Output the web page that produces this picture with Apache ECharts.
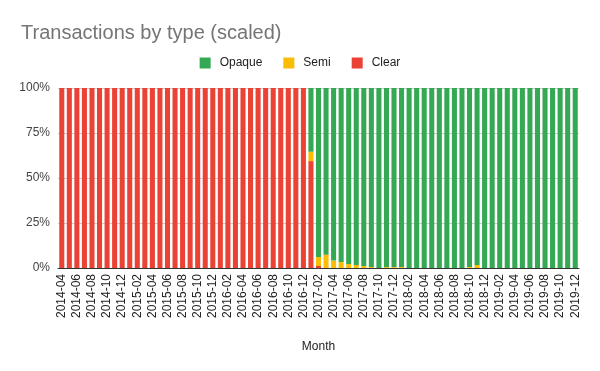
<!DOCTYPE html>
<html>
<head>
<meta charset="utf-8">
<script src="https://cdn.jsdelivr.net/npm/echarts@6/dist/echarts.min.js"></script>
<style>html,body{margin:0;padding:0;background:#fff}#c{width:600px;height:371px}</style>
</head>
<body>
<div id="c"></div>
<script>
var months = ["2014-04","2014-05","2014-06","2014-07","2014-08","2014-09","2014-10","2014-11","2014-12",
"2015-01","2015-02","2015-03","2015-04","2015-05","2015-06","2015-07","2015-08","2015-09","2015-10","2015-11","2015-12",
"2016-01","2016-02","2016-03","2016-04","2016-05","2016-06","2016-07","2016-08","2016-09","2016-10","2016-11","2016-12",
"2017-01","2017-02","2017-03","2017-04","2017-05","2017-06","2017-07","2017-08","2017-09","2017-10","2017-11","2017-12",
"2018-01","2018-02","2018-03","2018-04","2018-05","2018-06","2018-07","2018-08","2018-09","2018-10","2018-11","2018-12",
"2019-01","2019-02","2019-03","2019-04","2019-05","2019-06","2019-07","2019-08","2019-09","2019-10","2019-11","2019-12"];

var clear = [100,100,100,100,100,100,100,100,100,
100,100,100,100,100,100,100,100,100,100,100,100,
100,100,100,100,100,100,100,100,100,100,100,100,
59.4,1.1,0,0,0,0,0,0,0,0,0,0,
0,0,0,0,0,0,0,0,0,0,0,0,
0,0,0,0,0,0,0,0,0,0,0,0];

var semi = [0,0,0,0,0,0,0,0,0,
0,0,0,0,0,0,0,0,0,0,0,0,
0,0,0,0,0,0,0,0,0,0,0,0,
5.2,5.0,7.4,4.1,3.3,2.2,1.7,1.1,0.6,0,0.5,0.5,
0.5,0,0,0,0,0,0,0,0,0.5,1.7,0,
0,0,0,0,0,0,0,0,0,0,0,0];

var opaque = [0,0,0,0,0,0,0,0,0,
0,0,0,0,0,0,0,0,0,0,0,0,
0,0,0,0,0,0,0,0,0,0,0,0,
35.4,93.9,92.6,95.9,96.7,97.8,98.3,98.9,99.4,100,99.5,99.5,
99.5,100,100,100,100,100,100,100,100,99.5,98.3,100,
100,100,100,100,100,100,100,100,100,100,100,100];

var yTicks = [0,25,50,75,100];

var chart = echarts.init(document.getElementById('c'), null, {renderer:'canvas'});
var font = 'Arial, "Liberation Sans", sans-serif';
chart.setOption({
  animation: false,
  backgroundColor: '#ffffff',
  title: {
    text: 'Transactions by type (scaled)',
    left: 16, top: 18,
    textStyle: {fontFamily: font, fontSize: 20, fontWeight: 'normal', color: '#757575'}
  },
  legend: {
    data: ['Opaque','Semi','Clear'],
    top: 52, left: 'center',
    icon: 'rect',
    itemWidth: 11, itemHeight: 11, itemGap: 21,
    itemStyle: {borderRadius: 2},
    textStyle: {fontFamily: font, fontSize: 12, color: '#222', padding: [0,0,0,4]}
  },
  grid: {left: 58, right: 21, top: 88, bottom: 103, containLabel: false},
  xAxis: {
    type: 'category',
    data: months,
    name: 'Month',
    nameLocation: 'middle',
    nameGap: 73,
    nameTextStyle: {fontFamily: font, fontSize: 12, color: '#222'},
    axisLine: {lineStyle: {color: '#333', width: 1}},
    axisTick: {show: false},
    axisLabel: {interval: 1, rotate: 90, fontFamily: font, fontSize: 12, color: '#222', margin: 6}
  },
  yAxis: {
    type: 'value',
    min: 0, max: 100, interval: 25,
    axisLine: {show: false},
    axisTick: {show: false},
    splitLine: {lineStyle: {color: '#ccc'}},
    axisLabel: {fontFamily: font, fontSize: 12, color: '#444', margin: 8,
      formatter: function(v){ return yTicks.indexOf(v) >= 0 ? v + '%' : ''; }}
  },
  series: [
    {name: 'Clear', type: 'bar', stack: 't', data: clear, itemStyle: {color: '#ea4335'}, barCategoryGap: '33%'},
    {name: 'Semi', type: 'bar', stack: 't', data: semi, itemStyle: {color: '#fbbc04'}},
    {name: 'Opaque', type: 'bar', stack: 't', data: opaque, itemStyle: {color: '#34a853'}}
  ]
});
</script>
</body>
</html>
